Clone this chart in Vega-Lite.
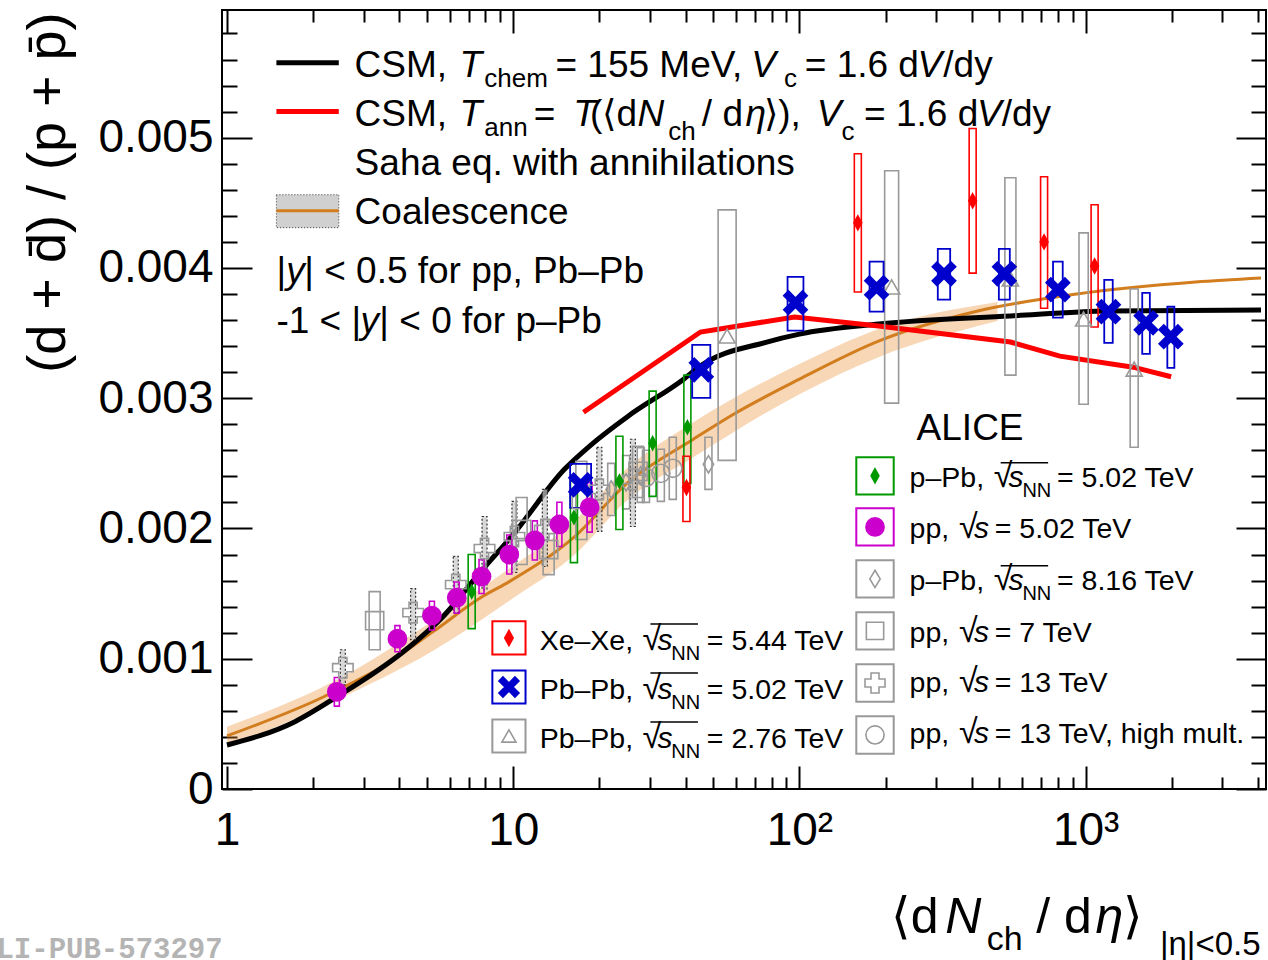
{
"$schema": "https://vega.github.io/schema/vega-lite/v6.json",
"width": 1044, "height": 779,
"autosize": "none",
"padding": {"left": 222, "top": 10, "right": 2, "bottom": 171},
"background": "white",
"config": {
  "view": {"stroke": "black", "strokeWidth": 2},
  "axis": {"domain": false, "grid": false, "tickColor": "black", "tickWidth": 2, "labelFont": "Liberation Sans", "labelColor": "black", "titleFont": "Liberation Sans", "titleColor": "black"},
  "text": {"font": "Liberation Sans", "color": "black"}
},
"resolve": {"scale": {"size": "independent"}, "axis": {"x": "independent", "y": "independent"}},
"datasets": {
  "band": [{"x":1,"lo":0.000315,"hi":0.000477},{"x":2.42,"lo":0.000685,"hi":0.000838},{"x":5.25,"lo":0.001062,"hi":0.001292},{"x":9.69,"lo":0.001446,"hi":0.001692},{"x":16.4,"lo":0.0018,"hi":0.002062},{"x":25.2,"lo":0.002223,"hi":0.002469},{"x":42.6,"lo":0.002546,"hi":0.002815},{"x":100,"lo":0.003031,"hi":0.003262},{"x":189,"lo":0.003315,"hi":0.003531},{"x":492,"lo":0.003592,"hi":0.003738}],
  "curveBlack": [{"x":1,"y":0.000338},{"x":1.72,"y":0.000515},{"x":2.42,"y":0.000708},{"x":4.13,"y":0.001054},{"x":5.68,"y":0.001323},{"x":7.81,"y":0.001685},{"x":10,"y":0.001954},{"x":15.1,"y":0.002454},{"x":18.8,"y":0.002646},{"x":25.2,"y":0.002862},{"x":39.4,"y":0.003146},{"x":45,"y":0.003246},{"x":76.9,"y":0.003431},{"x":100,"y":0.003492},{"x":189,"y":0.003569},{"x":546,"y":0.003631},{"x":1211,"y":0.003669},{"x":4100,"y":0.003677}],
  "curveRed": [{"x":17.6,"y":0.002892},{"x":45.1,"y":0.003508},{"x":96.1,"y":0.003623},{"x":189,"y":0.003554},{"x":546,"y":0.003431},{"x":813,"y":0.003323},{"x":1466,"y":0.003238},{"x":1990,"y":0.003165}],
  "curveOrange": [{"x":1,"y":0.000408},{"x":2.18,"y":0.000708},{"x":3.72,"y":0.000977},{"x":5.25,"y":0.001208},{"x":7.81,"y":0.001477},{"x":9.69,"y":0.001592},{"x":16.4,"y":0.001938},{"x":25.2,"y":0.002354},{"x":42.6,"y":0.002685},{"x":57.3,"y":0.002862},{"x":100,"y":0.003146},{"x":189,"y":0.003438},{"x":420,"y":0.003669},{"x":931,"y":0.0038},{"x":2421,"y":0.003892},{"x":4100,"y":0.003923}],
  "pts": [
    {"s":"pp13","x":2.54,"y":0.000931,"lo":0.0008,"hi":0.001069},
    {"s":"pp13","x":4.47,"y":0.001354,"lo":0.001146,"hi":0.001538},
    {"s":"pp13","x":6.3,"y":0.001569,"lo":0.001354,"hi":0.001785},
    {"s":"pp13","x":7.94,"y":0.001846,"lo":0.001531,"hi":0.002092},
    {"s":"pp13","x":10.1,"y":0.001938,"lo":0.001662,"hi":0.002208},
    {"s":"pp13","x":12.9,"y":0.001992,"lo":0.001708,"hi":0.0023},
    {"s":"pp13","x":20.0,"y":0.0023,"lo":0.001977,"hi":0.002623},
    {"s":"pp13","x":26.2,"y":0.002377,"lo":0.002015,"hi":0.002685},
    {"s":"pp7","x":3.28,"y":0.001292,"lo":0.001069,"hi":0.001515},
    {"s":"pp7","x":10.7,"y":0.001992,"lo":0.001723,"hi":0.002238},
    {"s":"pp7","x":13.3,"y":0.001838,"lo":0.001646,"hi":0.002069},
    {"s":"pp7","x":17.3,"y":0.002223,"lo":0.001915,"hi":0.002515},
    {"s":"pp7","x":27.3,"y":0.002438,"lo":0.002238,"hi":0.002631},
    {"s":"pp13hm","x":29.1,"y":0.002392,"lo":0.0022,"hi":0.0026},
    {"s":"pp13hm","x":32.8,"y":0.002423,"lo":0.002208,"hi":0.002608},
    {"s":"pp13hm","x":36.1,"y":0.002462,"lo":0.002223,"hi":0.0027},
    {"s":"pPb816","x":22.0,"y":0.0023,"lo":0.0021,"hi":0.0025},
    {"s":"pPb816","x":24.8,"y":0.002354,"lo":0.00215,"hi":0.00256},
    {"s":"pPb816","x":27.9,"y":0.002408,"lo":0.0022,"hi":0.00262},
    {"s":"pPb816","x":48.1,"y":0.002492,"lo":0.0023,"hi":0.0027},
    {"s":"PbPb276","x":55.9,"y":0.003477,"lo":0.002523,"hi":0.004446},
    {"s":"PbPb276","x":210,"y":0.003854,"lo":0.002962,"hi":0.004746},
    {"s":"PbPb276","x":546,"y":0.003915,"lo":0.003177,"hi":0.004692},
    {"s":"PbPb276","x":984,"y":0.003608,"lo":0.002954,"hi":0.004269},
    {"s":"PbPb276","x":1478,"y":0.003223,"lo":0.002623,"hi":0.003838},
    {"s":"pPb502","x":7.16,"y":0.001515,"lo":0.001231,"hi":0.0018},
    {"s":"pPb502","x":16.3,"y":0.002085,"lo":0.001738,"hi":0.002362},
    {"s":"pPb502","x":23.5,"y":0.002362,"lo":0.001992,"hi":0.002708},
    {"s":"pPb502","x":30.7,"y":0.002654,"lo":0.002246,"hi":0.003054},
    {"s":"pPb502","x":40.6,"y":0.002777,"lo":0.002346,"hi":0.003177},
    {"s":"pp502","x":2.42,"y":0.000746,"lo":0.000636,"hi":0.000856},
    {"s":"pp502","x":3.94,"y":0.001154,"lo":0.001054,"hi":0.001254},
    {"s":"pp502","x":5.2,"y":0.001331,"lo":0.001221,"hi":0.001441},
    {"s":"pp502","x":6.35,"y":0.001469,"lo":0.001349,"hi":0.001589},
    {"s":"pp502","x":7.75,"y":0.001631,"lo":0.001501,"hi":0.001761},
    {"s":"pp502","x":9.69,"y":0.0018,"lo":0.00165,"hi":0.00195},
    {"s":"pp502","x":11.9,"y":0.001908,"lo":0.001758,"hi":0.002058},
    {"s":"pp502","x":14.5,"y":0.002031,"lo":0.001861,"hi":0.002201},
    {"s":"pp502","x":18.5,"y":0.002162,"lo":0.001972,"hi":0.002352},
    {"s":"XeXe","x":40.3,"y":0.002315,"lo":0.002054,"hi":0.002554},
    {"s":"XeXe","x":160,"y":0.004346,"lo":0.003815,"hi":0.004877},
    {"s":"XeXe","x":403,"y":0.004515,"lo":0.00396,"hi":0.00507},
    {"s":"XeXe","x":716,"y":0.0042,"lo":0.00369,"hi":0.0047},
    {"s":"XeXe","x":1075,"y":0.004015,"lo":0.003546,"hi":0.004485},
    {"s":"PbPb502","x":17.2,"y":0.002335,"lo":0.002158,"hi":0.002496},
    {"s":"PbPb502","x":45.4,"y":0.003218,"lo":0.003003,"hi":0.00341},
    {"s":"PbPb502","x":96.9,"y":0.003733,"lo":0.003518,"hi":0.003932},
    {"s":"PbPb502","x":186,"y":0.003848,"lo":0.003664,"hi":0.004048},
    {"s":"PbPb502","x":320,"y":0.003955,"lo":0.003756,"hi":0.004147},
    {"s":"PbPb502","x":520,"y":0.003955,"lo":0.003756,"hi":0.004147},
    {"s":"PbPb502","x":800,"y":0.003833,"lo":0.003618,"hi":0.004048},
    {"s":"PbPb502","x":1202,"y":0.003664,"lo":0.003425,"hi":0.003909},
    {"s":"PbPb502","x":1626,"y":0.003579,"lo":0.003341,"hi":0.003809},
    {"s":"PbPb502","x":1985,"y":0.003472,"lo":0.003233,"hi":0.003702}
  ],
  "legL": [{"s":"XeXe","x":9.663,"y":0.00116},{"s":"PbPb502","x":9.663,"y":0.000783},{"s":"PbPb276","x":9.663,"y":0.000407}],
  "legR": [{"s":"pPb502","x":183.7,"y":0.002404},{"s":"pp502","x":183.7,"y":0.002012},{"s":"pPb816","x":183.7,"y":0.001613},{"s":"pp7","x":183.7,"y":0.001214},{"s":"pp13","x":183.7,"y":0.000814},{"s":"pp13hm","x":183.7,"y":0.000415}],
  "legBlack": [{"x":1.488,"x2":2.458,"y":0.005576}],
  "legRed": [{"x":1.488,"x2":2.458,"y":0.0052}],
  "legCoal": [{"x":1.488,"x2":2.458,"y":0.004309,"y2":0.004562,"ym":0.004439}],
  "ovl": [{"x":30.16,"x2":44.2,"y":0.001267},{"x":30.16,"x2":44.2,"y":0.000891},{"x":30.16,"x2":44.2,"y":0.000515},{"x":504.9,"x2":739.6,"y":0.002504},{"x":504.9,"x2":739.6,"y":0.001713}],
  "tN37": [
    {"x":2.792,"y":0.005469,"t":"CSM,"},
    {"x":14.05,"y":0.005469,"t":"= 155 MeV,"},
    {"x":104.4,"y":0.005469,"t":"= 1.6 d"},
    {"x":318.2,"y":0.005469,"t":"/dy"},
    {"x":2.792,"y":0.005092,"t":"CSM,"},
    {"x":11.79,"y":0.005092,"t":"="},
    {"x":18.56,"y":0.005092,"t":"(⟨d"},
    {"x":45.62,"y":0.005092,"t":"/ d"},
    {"x":75.34,"y":0.005092,"t":"⟩),"},
    {"x":168.3,"y":0.005092,"t":"= 1.6 d"},
    {"x":508.8,"y":0.005092,"t":"/dy"},
    {"x":2.792,"y":0.004716,"t":"Saha eq. with annihilations"},
    {"x":2.792,"y":0.004339,"t":"Coalescence"},
    {"x":1.488,"y":0.003886,"t":"|"},
    {"x":1.862,"y":0.003886,"t":"| < 0.5 for pp, Pb–Pb"},
    {"x":1.488,"y":0.003502,"t":"-1 < |"},
    {"x":3.407,"y":0.003502,"t":"| < 0 for p–Pb"},
    {"x":256.7,"y":0.00268,"t":"ALICE"}
  ],
  "tI37": [
    {"x":6.492,"y":0.005469,"t":"T"},
    {"x":67.93,"y":0.005469,"t":"V"},
    {"x":258.7,"y":0.005469,"t":"V"},
    {"x":6.492,"y":0.005092,"t":"T"},
    {"x":16.21,"y":0.005092,"t":"T"},
    {"x":27.2,"y":0.005092,"t":"N"},
    {"x":64.76,"y":0.005092,"t":"η"},
    {"x":114.9,"y":0.005092,"t":"V"},
    {"x":417.0,"y":0.005092,"t":"V"},
    {"x":1.612,"y":0.003886,"t":"y"},
    {"x":2.929,"y":0.003502,"t":"y"}
  ],
  "tS26": [
    {"x":7.922,"y":0.005392,"t":"chem"},
    {"x":88.33,"y":0.005392,"t":"c"},
    {"x":7.922,"y":0.005015,"t":"ann"},
    {"x":34.81,"y":0.004985,"t":"ch"},
    {"x":140.2,"y":0.004985,"t":"c"}
  ],
  "tN28": [
    {"x":12.37,"y":0.001068,"t":"Xe–Xe,"},
    {"x":47.48,"y":0.001068,"t":"= 5.44 TeV"},
    {"x":12.37,"y":0.000691,"t":"Pb–Pb,"},
    {"x":47.48,"y":0.000691,"t":"= 5.02 TeV"},
    {"x":12.37,"y":0.000315,"t":"Pb–Pb,"},
    {"x":47.48,"y":0.000315,"t":"= 2.76 TeV"},
    {"x":242.7,"y":0.00232,"t":"p–Pb,"},
    {"x":794.6,"y":0.00232,"t":"= 5.02 TeV"},
    {"x":242.7,"y":0.001928,"t":"pp,"},
    {"x":481.3,"y":0.001928,"t":"= 5.02 TeV"},
    {"x":242.7,"y":0.001528,"t":"p–Pb,"},
    {"x":794.6,"y":0.001528,"t":"= 8.16 TeV"},
    {"x":242.7,"y":0.001129,"t":"pp,"},
    {"x":481.3,"y":0.001129,"t":"= 7 TeV"},
    {"x":242.7,"y":0.000745,"t":"pp,"},
    {"x":481.3,"y":0.000745,"t":"= 13 TeV"},
    {"x":242.7,"y":0.000353,"t":"pp,"},
    {"x":481.3,"y":0.000353,"t":"= 13 TeV, high mult."}
  ],
  "tSq": [
    {"x":28.3,"y":0.001068,"t":"√"},
    {"x":28.3,"y":0.000691,"t":"√"},
    {"x":28.3,"y":0.000315,"t":"√"},
    {"x":477.4,"y":0.00232,"t":"√"},
    {"x":361.4,"y":0.001928,"t":"√"},
    {"x":477.4,"y":0.001528,"t":"√"},
    {"x":361.4,"y":0.001129,"t":"√"},
    {"x":361.4,"y":0.000745,"t":"√"},
    {"x":361.4,"y":0.000353,"t":"√"}
  ],
  "tI28": [
    {"x":31.9,"y":0.001068,"t":"s"},
    {"x":31.9,"y":0.000691,"t":"s"},
    {"x":31.9,"y":0.000315,"t":"s"},
    {"x":538,"y":0.00232,"t":"s"},
    {"x":407.1,"y":0.001928,"t":"s"},
    {"x":538,"y":0.001528,"t":"s"},
    {"x":407.1,"y":0.001129,"t":"s"},
    {"x":407.1,"y":0.000745,"t":"s"},
    {"x":407.1,"y":0.000353,"t":"s"}
  ],
  "tS20": [
    {"x":35.65,"y":0.000991,"t":"NN"},
    {"x":35.65,"y":0.000614,"t":"NN"},
    {"x":35.65,"y":0.000238,"t":"NN"},
    {"x":601.3,"y":0.002243,"t":"NN"},
    {"x":601.3,"y":0.001452,"t":"NN"}
  ],
  "tN46": [{"x":208.7,"y":-0.001106,"t":"⟨d"},{"x":672.2,"y":-0.001106,"t":"/ d"},{"x":1354,"y":-0.001106,"t":"⟩"}],
  "tI46": [{"x":323.2,"y":-0.001106,"t":"N"},{"x":1083,"y":-0.001106,"t":"η"}],
  "tS32": [{"x":451.4,"y":-0.001237,"t":"ch"}],
  "tS33": [{"x":1818,"y":-0.001275,"t":"|η|<0.5"}],
  "wm": [{"x":0.136,"y":-0.001298,"t":"ALI-PUB-573297"}]
},
"layer": [
  {"data": {"name": "band"}, "mark": {"type": "area", "color": "#e8892a", "opacity": 0.34, "interpolate": "monotone"},
   "encoding": {"x": {"field": "x", "type": "quantitative", "scale": {"type": "log", "domain": [1, 4100], "nice": false}, "axis": null},
     "y": {"field": "lo", "type": "quantitative", "scale": {"domain": [0, 0.00598], "nice": false, "zero": false}, "axis": null},
     "y2": {"field": "hi"}}},
  {"data": {"name": "curveOrange"}, "mark": {"type": "line", "color": "#d27d1e", "strokeWidth": 3, "interpolate": "monotone"},
   "encoding": {"x": {"field": "x", "type": "quantitative", "axis": null}, "y": {"field": "y", "type": "quantitative", "axis": null}}},
  {"data": {"name": "curveBlack"}, "mark": {"type": "line", "color": "#000000", "strokeWidth": 5, "interpolate": "monotone"},
   "encoding": {"x": {"field": "x", "type": "quantitative", "axis": null}, "y": {"field": "y", "type": "quantitative", "axis": null}}},
  {"data": {"name": "curveRed"}, "mark": {"type": "line", "color": "#ff0000", "strokeWidth": 5},
   "encoding": {"x": {"field": "x", "type": "quantitative", "axis": null}, "y": {"field": "y", "type": "quantitative", "axis": null}}},
  {"data": {"name": "pts"}, "transform": [{"filter": {"field": "s", "equal": "pp13"}}],
   "mark": {"type": "bar", "fill": "#c8c8c8", "fillOpacity": 0.7, "stroke": "#333333", "strokeDash": [2, 2], "strokeWidth": 1.2, "width": 5},
   "encoding": {"x": {"field": "x", "type": "quantitative", "axis": null}, "y": {"field": "lo", "type": "quantitative", "axis": null}, "y2": {"field": "hi"}}},
  {"data": {"name": "pts"}, "transform": [{"filter": {"field": "s", "oneOf": ["pp7", "pp13hm", "pPb816", "pPb502", "pp502", "XeXe"]}}],
   "mark": {"type": "bar", "fill": "transparent", "strokeWidth": 1.6},
   "encoding": {"x": {"field": "x", "type": "quantitative", "axis": null}, "y": {"field": "lo", "type": "quantitative", "axis": null}, "y2": {"field": "hi"},
     "stroke": {"field": "s", "type": "nominal", "legend": null, "scale": {"domain": ["XeXe","PbPb502","PbPb276","pPb502","pp502","pPb816","pp7","pp13","pp13hm"], "range": ["#ff0000","#0000cc","#999999","#009900","#cc00cc","#999999","#999999","#999999","#999999"]}},
     "size": {"field": "s", "type": "nominal", "legend": null, "scale": {"type": "ordinal", "domain": ["pp7","pp13hm","pPb816","pPb502","pp502","XeXe"], "range": [11, 7, 7, 7, 5, 7]}}}},
  {"data": {"name": "pts"}, "transform": [{"filter": {"field": "s", "equal": "PbPb276"}}],
   "mark": {"type": "bar", "fill": "transparent", "stroke": "#999999", "strokeWidth": 1.6},
   "encoding": {"x": {"field": "x", "type": "quantitative", "axis": null}, "y": {"field": "lo", "type": "quantitative", "axis": null}, "y2": {"field": "hi"},
     "size": {"field": "x", "type": "quantitative", "legend": null, "scale": {"type": "log", "domain": [56, 1478], "range": [18, 8]}}}},
  {"data": {"name": "pts"}, "transform": [{"filter": {"field": "s", "equal": "PbPb502"}}],
   "mark": {"type": "bar", "fill": "transparent", "stroke": "#0000cc", "strokeWidth": 1.8},
   "encoding": {"x": {"field": "x", "type": "quantitative", "axis": null}, "y": {"field": "lo", "type": "quantitative", "axis": null}, "y2": {"field": "hi"},
     "size": {"field": "x", "type": "quantitative", "legend": null, "scale": {"type": "log", "domain": [17, 2000], "range": [21, 7]}}}},
  {"data": {"name": "pts"}, "mark": {"type": "point", "strokeWidth": 1.6, "opacity": 1},
   "encoding": {"x": {"field": "x", "type": "quantitative", "axis": null}, "y": {"field": "y", "type": "quantitative", "axis": null},
     "shape": {"field": "s", "type": "nominal", "legend": null, "scale": {"domain": ["XeXe","PbPb502","PbPb276","pPb502","pp502","pPb816","pp7","pp13","pp13hm"], "range": ["M0,-1L0.55,0L0,1L-0.55,0Z","M-1,-0.6L-0.6,-1L0,-0.4L0.6,-1L1,-0.6L0.4,0L1,0.6L0.6,1L0,0.4L-0.6,1L-1,0.6L-0.4,0Z","triangle-up","M0,-1L0.55,0L0,1L-0.55,0Z","circle","M0,-1L0.6,0L0,1L-0.6,0Z","square","cross","circle"]}},
     "fill": {"field": "s", "type": "nominal", "legend": null, "scale": {"domain": ["XeXe","PbPb502","PbPb276","pPb502","pp502","pPb816","pp7","pp13","pp13hm"], "range": ["#ff0000","#0000cc","transparent","#009900","#cc00cc","transparent","transparent","transparent","transparent"]}},
     "stroke": {"field": "s", "type": "nominal", "legend": null, "scale": {"domain": ["XeXe","PbPb502","PbPb276","pPb502","pp502","pPb816","pp7","pp13","pp13hm"], "range": ["#ff0000","#0000cc","#999999","#009900","#cc00cc","#999999","#999999","#999999","#999999"]}},
     "size": {"field": "s", "type": "nominal", "legend": null, "scale": {"type": "ordinal", "domain": ["XeXe","PbPb502","PbPb276","pPb502","pp502","pPb816","pp7","pp13","pp13hm"], "range": [200, 550, 260, 170, 330, 300, 330, 420, 330]}}}},
  {"data": {"name": "legBlack"}, "mark": {"type": "rule", "color": "#000000", "strokeWidth": 5},
   "encoding": {"x": {"field": "x", "type": "quantitative", "axis": null}, "x2": {"field": "x2"}, "y": {"field": "y", "type": "quantitative", "axis": null}}},
  {"data": {"name": "legRed"}, "mark": {"type": "rule", "color": "#ff0000", "strokeWidth": 5},
   "encoding": {"x": {"field": "x", "type": "quantitative", "axis": null}, "x2": {"field": "x2"}, "y": {"field": "y", "type": "quantitative", "axis": null}}},
  {"data": {"name": "legCoal"}, "mark": {"type": "rect", "fill": "#8a8a8a", "fillOpacity": 0.4, "stroke": "#333333", "strokeDash": [1, 2], "strokeWidth": 1},
   "encoding": {"x": {"field": "x", "type": "quantitative", "axis": null}, "x2": {"field": "x2"}, "y": {"field": "y", "type": "quantitative", "axis": null}, "y2": {"field": "y2"}}},
  {"data": {"name": "legCoal"}, "mark": {"type": "rule", "color": "#d27d1e", "strokeWidth": 3},
   "encoding": {"x": {"field": "x", "type": "quantitative", "axis": null}, "x2": {"field": "x2"}, "y": {"field": "ym", "type": "quantitative", "axis": null}}},
  {"data": {"name": "legL"}, "mark": {"type": "point", "shape": "square", "fill": "transparent", "strokeWidth": 2, "size": 1100, "opacity": 1},
   "encoding": {"x": {"field": "x", "type": "quantitative", "axis": null}, "y": {"field": "y", "type": "quantitative", "axis": null},
     "stroke": {"field": "s", "type": "nominal", "legend": null, "scale": {"domain": ["XeXe","PbPb502","PbPb276","pPb502","pp502","pPb816","pp7","pp13","pp13hm"], "range": ["#ff0000","#0000cc","#999999","#009900","#cc00cc","#999999","#999999","#999999","#999999"]}}}},
  {"data": {"name": "legR"}, "mark": {"type": "point", "shape": "square", "fill": "transparent", "strokeWidth": 2, "size": 1400, "opacity": 1},
   "encoding": {"x": {"field": "x", "type": "quantitative", "axis": null}, "y": {"field": "y", "type": "quantitative", "axis": null},
     "stroke": {"field": "s", "type": "nominal", "legend": null, "scale": {"domain": ["XeXe","PbPb502","PbPb276","pPb502","pp502","pPb816","pp7","pp13","pp13hm"], "range": ["#ff0000","#0000cc","#999999","#009900","#cc00cc","#999999","#999999","#999999","#999999"]}}}},
  {"data": {"name": "legL"}, "mark": {"type": "point", "strokeWidth": 1.6, "opacity": 1},
   "encoding": {"x": {"field": "x", "type": "quantitative", "axis": null}, "y": {"field": "y", "type": "quantitative", "axis": null},
     "shape": {"field": "s", "type": "nominal", "legend": null, "scale": {"domain": ["XeXe","PbPb502","PbPb276","pPb502","pp502","pPb816","pp7","pp13","pp13hm"], "range": ["M0,-1L0.55,0L0,1L-0.55,0Z","M-1,-0.6L-0.6,-1L0,-0.4L0.6,-1L1,-0.6L0.4,0L1,0.6L0.6,1L0,0.4L-0.6,1L-1,0.6L-0.4,0Z","triangle-up","M0,-1L0.55,0L0,1L-0.55,0Z","circle","M0,-1L0.6,0L0,1L-0.6,0Z","square","cross","circle"]}},
     "fill": {"field": "s", "type": "nominal", "legend": null, "scale": {"domain": ["XeXe","PbPb502","PbPb276","pPb502","pp502","pPb816","pp7","pp13","pp13hm"], "range": ["#ff0000","#0000cc","transparent","#009900","#cc00cc","transparent","transparent","transparent","transparent"]}},
     "stroke": {"field": "s", "type": "nominal", "legend": null, "scale": {"domain": ["XeXe","PbPb502","PbPb276","pPb502","pp502","pPb816","pp7","pp13","pp13hm"], "range": ["#ff0000","#0000cc","#999999","#009900","#cc00cc","#999999","#999999","#999999","#999999"]}},
     "size": {"field": "s", "type": "nominal", "legend": null, "scale": {"type": "ordinal", "domain": ["XeXe","PbPb502","PbPb276","pPb502","pp502","pPb816","pp7","pp13","pp13hm"], "range": [230, 400, 200, 200, 330, 300, 300, 400, 330]}}}},
  {"data": {"name": "legR"}, "mark": {"type": "point", "strokeWidth": 1.6, "opacity": 1},
   "encoding": {"x": {"field": "x", "type": "quantitative", "axis": null}, "y": {"field": "y", "type": "quantitative", "axis": null},
     "shape": {"field": "s", "type": "nominal", "legend": null, "scale": {"domain": ["XeXe","PbPb502","PbPb276","pPb502","pp502","pPb816","pp7","pp13","pp13hm"], "range": ["M0,-1L0.55,0L0,1L-0.55,0Z","M-1,-0.6L-0.6,-1L0,-0.4L0.6,-1L1,-0.6L0.4,0L1,0.6L0.6,1L0,0.4L-0.6,1L-1,0.6L-0.4,0Z","triangle-up","M0,-1L0.55,0L0,1L-0.55,0Z","circle","M0,-1L0.6,0L0,1L-0.6,0Z","square","cross","circle"]}},
     "fill": {"field": "s", "type": "nominal", "legend": null, "scale": {"domain": ["XeXe","PbPb502","PbPb276","pPb502","pp502","pPb816","pp7","pp13","pp13hm"], "range": ["#ff0000","#0000cc","transparent","#009900","#cc00cc","transparent","transparent","transparent","transparent"]}},
     "stroke": {"field": "s", "type": "nominal", "legend": null, "scale": {"domain": ["XeXe","PbPb502","PbPb276","pPb502","pp502","pPb816","pp7","pp13","pp13hm"], "range": ["#ff0000","#0000cc","#999999","#009900","#cc00cc","#999999","#999999","#999999","#999999"]}},
     "size": {"field": "s", "type": "nominal", "legend": null, "scale": {"type": "ordinal", "domain": ["XeXe","PbPb502","PbPb276","pPb502","pp502","pPb816","pp7","pp13","pp13hm"], "range": [230, 400, 200, 200, 330, 300, 300, 400, 330]}}}},
  {"data": {"name": "ovl"}, "mark": {"type": "rule", "color": "#000000", "strokeWidth": 1.5},
   "encoding": {"x": {"field": "x", "type": "quantitative", "axis": null}, "x2": {"field": "x2"}, "y": {"field": "y", "type": "quantitative", "axis": null}}},
  {"data": {"name": "tN37"}, "mark": {"type": "text", "align": "left", "baseline": "alphabetic", "fontSize": 37},
   "encoding": {"x": {"field": "x", "type": "quantitative", "axis": null}, "y": {"field": "y", "type": "quantitative", "axis": null}, "text": {"field": "t"}}},
  {"data": {"name": "tI37"}, "mark": {"type": "text", "align": "left", "baseline": "alphabetic", "fontSize": 37, "fontStyle": "italic"},
   "encoding": {"x": {"field": "x", "type": "quantitative", "axis": null}, "y": {"field": "y", "type": "quantitative", "axis": null}, "text": {"field": "t"}}},
  {"data": {"name": "tS26"}, "mark": {"type": "text", "align": "left", "baseline": "alphabetic", "fontSize": 26},
   "encoding": {"x": {"field": "x", "type": "quantitative", "axis": null}, "y": {"field": "y", "type": "quantitative", "axis": null}, "text": {"field": "t"}}},
  {"data": {"name": "tN28"}, "mark": {"type": "text", "align": "left", "baseline": "alphabetic", "fontSize": 28.5},
   "encoding": {"x": {"field": "x", "type": "quantitative", "axis": null}, "y": {"field": "y", "type": "quantitative", "axis": null}, "text": {"field": "t"}}},
  {"data": {"name": "tSq"}, "mark": {"type": "text", "align": "left", "baseline": "alphabetic", "fontSize": 34},
   "encoding": {"x": {"field": "x", "type": "quantitative", "axis": null}, "y": {"field": "y", "type": "quantitative", "axis": null}, "text": {"field": "t"}}},
  {"data": {"name": "tI28"}, "mark": {"type": "text", "align": "left", "baseline": "alphabetic", "fontSize": 30, "fontStyle": "italic"},
   "encoding": {"x": {"field": "x", "type": "quantitative", "axis": null}, "y": {"field": "y", "type": "quantitative", "axis": null}, "text": {"field": "t"}}},
  {"data": {"name": "tS20"}, "mark": {"type": "text", "align": "left", "baseline": "alphabetic", "fontSize": 20},
   "encoding": {"x": {"field": "x", "type": "quantitative", "axis": null}, "y": {"field": "y", "type": "quantitative", "axis": null}, "text": {"field": "t"}}},
  {"data": {"name": "tN46"}, "mark": {"type": "text", "align": "left", "baseline": "alphabetic", "fontSize": 50},
   "encoding": {"x": {"field": "x", "type": "quantitative", "axis": null}, "y": {"field": "y", "type": "quantitative", "axis": null}, "text": {"field": "t"}}},
  {"data": {"name": "tI46"}, "mark": {"type": "text", "align": "left", "baseline": "alphabetic", "fontSize": 50, "fontStyle": "italic"},
   "encoding": {"x": {"field": "x", "type": "quantitative", "axis": null}, "y": {"field": "y", "type": "quantitative", "axis": null}, "text": {"field": "t"}}},
  {"data": {"name": "tS32"}, "mark": {"type": "text", "align": "left", "baseline": "alphabetic", "fontSize": 34},
   "encoding": {"x": {"field": "x", "type": "quantitative", "axis": null}, "y": {"field": "y", "type": "quantitative", "axis": null}, "text": {"field": "t"}}},
  {"data": {"name": "tS33"}, "mark": {"type": "text", "align": "left", "baseline": "alphabetic", "fontSize": 33},
   "encoding": {"x": {"field": "x", "type": "quantitative", "axis": null}, "y": {"field": "y", "type": "quantitative", "axis": null}, "text": {"field": "t"}}},
  {"data": {"name": "wm"}, "mark": {"type": "text", "align": "left", "baseline": "alphabetic", "fontSize": 29, "font": "Liberation Mono", "fontWeight": "bold", "color": "#b4b4b4"},
   "encoding": {"x": {"field": "x", "type": "quantitative", "axis": null}, "y": {"field": "y", "type": "quantitative", "axis": null}, "text": {"field": "t"}}},
  {"data": {"name": "curveBlack"}, "mark": {"type": "point", "opacity": 0},
   "encoding": {
     "x": {"field": "x", "type": "quantitative", "axis": {"orient": "bottom", "title": null, "values": [1,2,3,4,5,6,7,8,9,10,20,30,40,50,60,70,80,90,100,200,300,400,500,600,700,800,900,1000,2000,3000,4000], "labelExpr": "datum.value==1?'1':datum.value==10?'10':datum.value==100?'10²':datum.value==1000?'10³':''", "labelFontSize": 46, "labelPadding": 42, "labelOverlap": false, "labelFlush": false, "labelBound": false, "tickSize": {"condition": {"test": "indexof([1,10,100,1000],datum.value)>=0", "value": -23}, "value": -12}}},
     "y": {"field": "y", "type": "quantitative", "axis": {"orient": "left", "values": [0,0.0002,0.0004,0.0006,0.0008,0.001,0.0012,0.0014,0.0016,0.0018,0.002,0.0022,0.0024,0.0026,0.0028,0.003,0.0032,0.0034,0.0036,0.0038,0.004,0.0042,0.0044,0.0046,0.0048,0.005,0.0052,0.0054,0.0056,0.0058], "labelExpr": "abs(datum.value*1000-round(datum.value*1000))<0.001 ? (datum.value==0 ? '0' : format(datum.value,'.3f')) : ''", "labelFontSize": 46, "labelPadding": 39, "labelOverlap": false, "labelFlush": false, "labelBound": false, "tickSize": {"condition": {"test": "abs(datum.value*1000-round(datum.value*1000))<0.001", "value": -30}, "value": -15},
       "title": "(d + d\u0304) / (p + p\u0304)", "titleFontSize": 54, "titleFontWeight": "normal", "titleAngle": -90, "titleAlign": "right", "titleBaseline": "alphabetic", "titleX": -158, "titleY": 2}}}},
  {"data": {"name": "curveBlack"}, "mark": {"type": "point", "opacity": 0},
   "encoding": {
     "x": {"field": "x", "type": "quantitative", "axis": {"orient": "top", "title": null, "labels": false, "values": [1,2,3,4,5,6,7,8,9,10,20,30,40,50,60,70,80,90,100,200,300,400,500,600,700,800,900,1000,2000,3000,4000], "tickSize": {"condition": {"test": "indexof([1,10,100,1000],datum.value)>=0", "value": -23}, "value": -12}}},
     "y": {"field": "y", "type": "quantitative", "axis": {"orient": "right", "title": null, "labels": false, "values": [0,0.0002,0.0004,0.0006,0.0008,0.001,0.0012,0.0014,0.0016,0.0018,0.002,0.0022,0.0024,0.0026,0.0028,0.003,0.0032,0.0034,0.0036,0.0038,0.004,0.0042,0.0044,0.0046,0.0048,0.005,0.0052,0.0054,0.0056,0.0058], "tickSize": {"condition": {"test": "abs(datum.value*1000-round(datum.value*1000))<0.001", "value": -30}, "value": -15}}}}}
]
}
